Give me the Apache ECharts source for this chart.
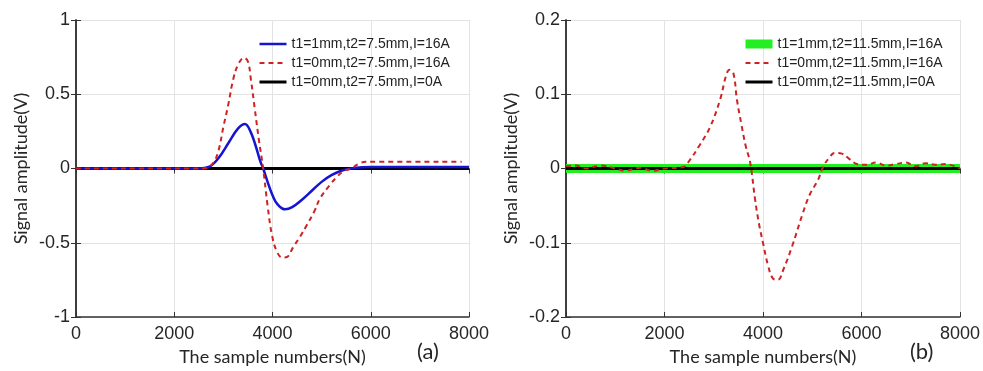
<!DOCTYPE html>
<html><head><meta charset="utf-8">
<script src="https://cdn.jsdelivr.net/npm/echarts@6/dist/echarts.min.js"></script>
<style>html,body{margin:0;padding:0;background:#fff}#c{width:983px;height:371px}</style>
</head><body><div id="c"></div>
<script>
// Panel (a)
const aBlueX = [0,2500,2700,2900,3100,3300,3440,3550,3650,3750,3810,3900,4000,4100,4260,4400,4600,4800,5000,5200,5400,5600,6000,8000];
const aBlueY = [0,0,0.01,0.07,0.17,0.27,0.30,0.25,0.16,0.05,0,-0.09,-0.18,-0.24,-0.275,-0.26,-0.21,-0.15,-0.09,-0.045,-0.015,0,0.01,0.01];
const aRedX = [0,2600,2700,2800,2900,3000,3100,3200,3300,3420,3500,3560,3640,3720,3810,3900,3990,4090,4200,4300,4420,4560,4700,4850,4970,5170,5300,5440,5600,5750,5900,7850];
const aRedY = [0,0,0.01,0.04,0.12,0.28,0.43,0.6,0.7,0.745,0.72,0.6,0.4,0.2,0,-0.25,-0.45,-0.56,-0.6,-0.595,-0.53,-0.46,-0.38,-0.29,-0.2,-0.11,-0.06,-0.02,0,0.03,0.045,0.045];
const aBlackX = [0,8000];
const aBlackY = [0,0];
// Panel (b)
const bGreenX = [0,8000];
const bGreenY = [0,0];
const bRedX = [0,200,400,700,1000,1200,1500,1750,2000,2380,2520,2700,2920,3130,3250,3320,3400,3470,3560,3650,3740,3840,3920,4000,4100,4200,4300,4420,4590,4810,4950,5120,5220,5350,5450,5600,5750,5910,6100,6300,6500,6700,6900,7100,7300,7500,7700,8000];
const bRedY = [0.003,0.004,0,0.004,0,-0.003,0.001,-0.003,0,0.002,0.012,0.03,0.055,0.093,0.125,0.133,0.128,0.093,0.06,0.03,0.008,-0.042,-0.075,-0.1,-0.13,-0.148,-0.15,-0.135,-0.105,-0.06,-0.035,-0.015,0.002,0.015,0.021,0.02,0.013,0.006,0.005,0.008,0.004,0.006,0.008,0.003,0.007,0.005,0.006,0];
const bBlackX = [0,8000];
const bBlackY = [0,0];

const namesA = ['t1=1mm,t2=7.5mm,I=16A','t1=0mm,t2=7.5mm,I=16A','t1=0mm,t2=7.5mm,I=0A'];
const namesB = ['t1=1mm,t2=11.5mm,I=16A','t1=0mm,t2=11.5mm,I=16A','t1=0mm,t2=11.5mm,I=0A'];
const xTicks = {min:0,max:8000,interval:2000};
const yTicksA = {min:-1,max:1,interval:0.5};
const yTicksB = {min:-0.2,max:0.2,interval:0.1};

const zip = (xs, ys) => xs.map((x,i)=>[x,ys[i]]);
const labelFont = {fontFamily:'Liberation Sans, Arial', fontSize:18, color:'#262626'};
const nameFont = {fontFamily:'Lato, Open Sans', fontSize:18, color:'#262626'};
const fmt = v => String(v);

function mainX(grid){
  return {type:'value', gridIndex:grid, ...xTicks, position:'bottom',
    name:'The sample numbers(N)', nameLocation:'middle', nameGap:31, nameTextStyle:nameFont,
    axisLine:{show:true,onZero:false,lineStyle:{color:'#333',width:1.5}},
    axisTick:{show:true,inside:true,length:5,lineStyle:{color:'#333'}},
    axisLabel:{...labelFont, margin:8, formatter:fmt},
    splitLine:{show:true,lineStyle:{color:'#e3e3e3',width:1}}};
}
function topX(grid){
  return {type:'value', gridIndex:grid, ...xTicks, position:'top',
    axisLine:{show:true,lineStyle:{color:'#333',width:1.5}},
    axisTick:{show:true,inside:true,length:5,lineStyle:{color:'#333'}},
    axisLabel:{show:false}, splitLine:{show:false}};
}
function mainY(grid, t){
  return {type:'value', gridIndex:grid, ...t, position:'left',
    name:'Signal amplitude(V)', nameLocation:'middle', nameGap:46, nameTextStyle:nameFont,
    axisLine:{show:true,onZero:false,lineStyle:{color:'#333',width:1.5}},
    axisTick:{show:true,inside:true,length:5,lineStyle:{color:'#333'}},
    axisLabel:{...labelFont, margin:6, formatter:fmt},
    splitLine:{show:true,lineStyle:{color:'#e3e3e3',width:1}}};
}
function rightY(grid, t){
  return {type:'value', gridIndex:grid, ...t, position:'right',
    axisLine:{show:true,lineStyle:{color:'#333',width:1.5}},
    axisTick:{show:true,inside:true,length:5,lineStyle:{color:'#333'}},
    axisLabel:{show:false}, splitLine:{show:false}};
}
function line(name, xi, yi, data, color, width, type, z){
  return {type:'line', name, xAxisIndex:xi, yAxisIndex:yi, data, symbol:'none', showSymbol:false,
    smooth:0.4,
    lineStyle:{color, width, type}, itemStyle:{color}, z, animation:false};
}
const legendText = {fontFamily:'Liberation Sans, Arial', fontSize:14, color:'#222'};
const legendBase = {orient:'vertical', top:37, itemWidth:27, itemHeight:14, itemGap:5, textStyle:legendText,
  selectedMode:false, padding:0, itemStyle:{opacity:0, borderWidth:0}, lineStyle:{width:'inherit'}};

const chart = echarts.init(document.getElementById('c'), null, {renderer:'canvas'});
chart.setOption({
  animation:false,
  backgroundColor:'#fff',
  grid:[
    {left:76, top:20, width:393, height:299, show:false},
    {left:566, top:20, width:394, height:299, show:false}
  ],
  xAxis:[mainX(0), topX(0), mainX(1), topX(1)],
  yAxis:[mainY(0,yTicksA), rightY(0,yTicksA), mainY(1,yTicksB), rightY(1,yTicksB)],
  legend:[
    {...legendBase, data:namesA, left:258},
    {...legendBase, data:namesB, left:741}
  ],
  series:[
    line(namesA[0],0,0,zip(aBlueX,aBlueY),'#1414d2',2.5,'solid',3),
    line(namesA[1],0,0,zip(aRedX,aRedY),'#cc2424',2,[5,4],4),
    line(namesA[2],0,0,zip(aBlackX,aBlackY),'#000',3,'solid',2),
    line(namesB[0],2,2,zip(bGreenX,bGreenY),'#22ee22',9,'solid',2),
    line(namesB[1],2,2,zip(bRedX,bRedY),'#cc2424',2,[5,4],4),
    line(namesB[2],2,2,zip(bBlackX,bBlackY),'#000',3,'solid',3)
  ],
  graphic:[
    {type:'text', left:417, top:341, style:{text:'(a)', font:'22px Lato, Open Sans', fill:'#262626'}},
    {type:'text', left:910, top:341, style:{text:'(b)', font:'22px Lato, Open Sans', fill:'#262626'}}
  ]
});
</script></body></html>
